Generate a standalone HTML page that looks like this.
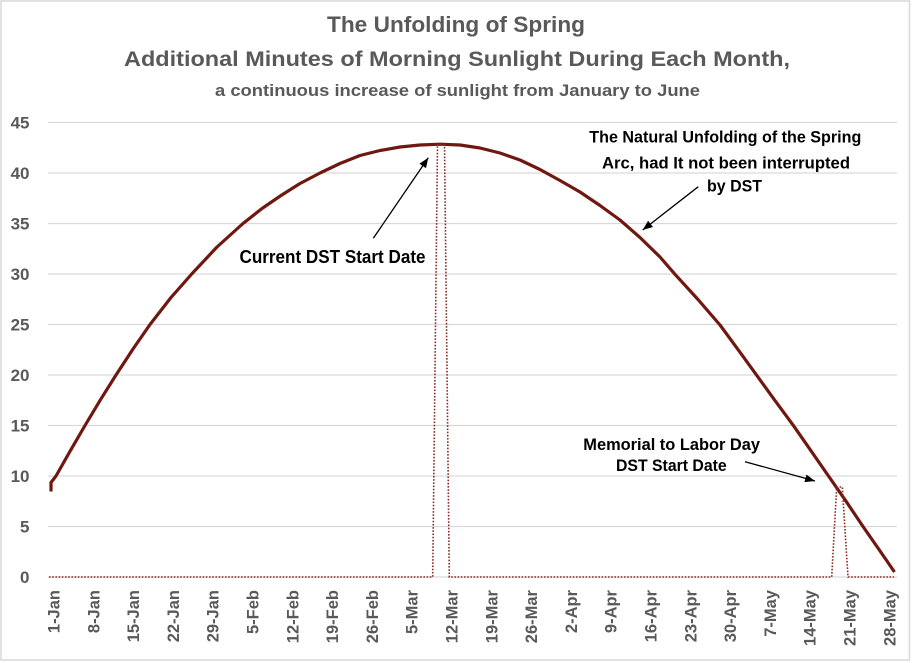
<!DOCTYPE html>
<html>
<head>
<meta charset="utf-8">
<style>
  html, body { margin: 0; padding: 0; background: #ffffff; }
  svg { display: block; }
  text { font-family: "Liberation Sans", Arial, sans-serif; }
</style>
</head>
<body>
<svg width="912" height="663" viewBox="0 0 912 663" xmlns="http://www.w3.org/2000/svg">
  <defs>
    <marker id="ah" markerUnits="userSpaceOnUse" markerWidth="11" markerHeight="9" refX="10" refY="4.5" orient="auto">
      <path d="M0,0.5 L10,4.5 L0,8.5 z" fill="#000"/>
    </marker>
  </defs>
  <rect x="0" y="0" width="912" height="663" fill="#ffffff"/>
  <rect x="1" y="1" width="908.5" height="659" fill="none" stroke="#d9d9d9" stroke-width="1.5"/>

  <!-- Titles -->
  <text x="456" y="32" text-anchor="middle" font-size="22.5" font-weight="bold" fill="#595959" textLength="258" lengthAdjust="spacingAndGlyphs">The Unfolding of Spring</text>
  <text x="457" y="66" text-anchor="middle" font-size="21" font-weight="bold" fill="#595959" textLength="666" lengthAdjust="spacingAndGlyphs">Additional Minutes of Morning Sunlight During Each Month,</text>
  <text x="457.5" y="96" text-anchor="middle" font-size="16.5" font-weight="bold" fill="#595959" textLength="485" lengthAdjust="spacingAndGlyphs">a continuous increase of sunlight from January to June</text>

  <!-- Gridlines -->
  <g stroke="#d9d9d9" stroke-width="1.3">
    <line x1="48" y1="122.5" x2="897" y2="122.5"/>
    <line x1="48" y1="173" x2="897" y2="173"/>
    <line x1="48" y1="223.5" x2="897" y2="223.5"/>
    <line x1="48" y1="274" x2="897" y2="274"/>
    <line x1="48" y1="324.5" x2="897" y2="324.5"/>
    <line x1="48" y1="375" x2="897" y2="375"/>
    <line x1="48" y1="425.5" x2="897" y2="425.5"/>
    <line x1="48" y1="476" x2="897" y2="476"/>
    <line x1="48" y1="526.5" x2="897" y2="526.5"/>
    <line x1="48" y1="577" x2="897" y2="577"/>
  </g>

  <!-- Y axis labels -->
  <g font-size="17" font-weight="bold" fill="#595959" text-anchor="end">
    <text x="29.5" y="128.7">45</text>
    <text x="29.5" y="179.2">40</text>
    <text x="29.5" y="229.7">35</text>
    <text x="29.5" y="280.2">30</text>
    <text x="29.5" y="330.7">25</text>
    <text x="29.5" y="381.2">20</text>
    <text x="29.5" y="431.7">15</text>
    <text x="29.5" y="482.2">10</text>
    <text x="29.5" y="532.7">5</text>
    <text x="29.5" y="583.2">0</text>
  </g>

  <!-- X axis labels (rotated) -->
  <g font-size="16.5" font-weight="bold" fill="#595959" text-anchor="end">
    <text x="59.5" y="590" transform="rotate(-90 59.5 590)">1-Jan</text>
    <text x="99.3" y="590" transform="rotate(-90 99.3 590)">8-Jan</text>
    <text x="139.1" y="590" transform="rotate(-90 139.1 590)">15-Jan</text>
    <text x="178.9" y="590" transform="rotate(-90 178.9 590)">22-Jan</text>
    <text x="218.7" y="590" transform="rotate(-90 218.7 590)">29-Jan</text>
    <text x="258.5" y="590" transform="rotate(-90 258.5 590)">5-Feb</text>
    <text x="298.3" y="590" transform="rotate(-90 298.3 590)">12-Feb</text>
    <text x="338.1" y="590" transform="rotate(-90 338.1 590)">19-Feb</text>
    <text x="377.9" y="590" transform="rotate(-90 377.9 590)">26-Feb</text>
    <text x="417.7" y="590" transform="rotate(-90 417.7 590)">5-Mar</text>
    <text x="457.5" y="590" transform="rotate(-90 457.5 590)">12-Mar</text>
    <text x="497.3" y="590" transform="rotate(-90 497.3 590)">19-Mar</text>
    <text x="537.1" y="590" transform="rotate(-90 537.1 590)">26-Mar</text>
    <text x="576.9" y="590" transform="rotate(-90 576.9 590)">2-Apr</text>
    <text x="616.7" y="590" transform="rotate(-90 616.7 590)">9-Apr</text>
    <text x="656.5" y="590" transform="rotate(-90 656.5 590)">16-Apr</text>
    <text x="696.3" y="590" transform="rotate(-90 696.3 590)">23-Apr</text>
    <text x="736.1" y="590" transform="rotate(-90 736.1 590)">30-Apr</text>
    <text x="775.9" y="590" transform="rotate(-90 775.9 590)">7-May</text>
    <text x="815.7" y="590" transform="rotate(-90 815.7 590)">14-May</text>
    <text x="855.5" y="590" transform="rotate(-90 855.5 590)">21-May</text>
    <text x="895.3" y="590" transform="rotate(-90 895.3 590)">28-May</text>
  </g>

  <!-- Main curve -->
  <path d="M51,491.5 L51,482.5 L56,476 L70.5,450.4 L85,425.5 L100.5,399.7 L116,375 L133,349 L150,324.5 L171,297.5 L191.7,274 L217,247 L243,223.5 L262,208.5 L281,195.5 L300,183.5 L320,173 L340,163.5 L360,155.5 L380,150.5 L400,147 L420,145 L440,144.2 L460,145 L480,148 L500,153 L520,160 L540,169.5 L560,180.5 L580,192 L600,205.5 L620,220 L640,237.5 L660,257 L675,274.3 L698,299.5 L720,325 L738.5,350.2 L757,375.7 L775,400.6 L793.5,425.7 L811,450.8 L828.5,476 L846,501.2 L863,526.5 L879,549.5 L894.5,572"
        fill="none" stroke="#701810" stroke-width="3.2" stroke-linejoin="round" stroke-linecap="butt"/>

  <!-- Dotted DST series -->
  <polyline points="49,577 432.7,577 437.5,144.5 444.5,144.5 449.3,577 831.7,577 836.7,487 842.3,487 848,577 894,577"
        fill="none" stroke="#8b2a22" stroke-width="1.6" stroke-dasharray="1.6 1.6"/>

  <!-- Annotations -->
  <g font-size="17" font-weight="bold" fill="#000">
    <text x="239.5" y="263" font-size="18" textLength="186" lengthAdjust="spacingAndGlyphs">Current DST Start Date</text>
    <text x="589.3" y="142.7" textLength="272" lengthAdjust="spacingAndGlyphs">The Natural Unfolding of the Spring</text>
    <text x="602" y="168.3" textLength="248" lengthAdjust="spacingAndGlyphs">Arc, had It not been interrupted</text>
    <text x="707" y="191.7" textLength="55" lengthAdjust="spacingAndGlyphs">by DST</text>
    <text x="583.3" y="450" textLength="176.7" lengthAdjust="spacingAndGlyphs">Memorial to Labor Day</text>
    <text x="616" y="471" textLength="110.7" lengthAdjust="spacingAndGlyphs">DST Start Date</text>
  </g>

  <!-- Arrows -->
  <g stroke="#000" stroke-width="1.3" fill="none">
    <line x1="373.3" y1="238.3" x2="428.3" y2="157.7" marker-end="url(#ah)"/>
    <line x1="698.3" y1="186.7" x2="642.7" y2="230" marker-end="url(#ah)"/>
    <line x1="745" y1="461.7" x2="815" y2="481" marker-end="url(#ah)"/>
  </g>
</svg>
</body>
</html>
